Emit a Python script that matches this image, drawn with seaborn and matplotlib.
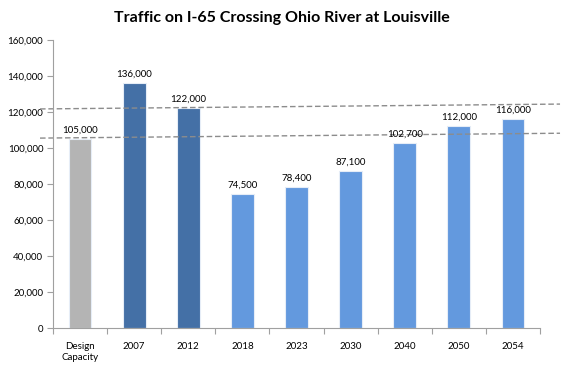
import matplotlib
matplotlib.use("Agg")
import matplotlib.pyplot as plt
import seaborn as sns
import pandas as pd
import numpy as np
from matplotlib.ticker import FuncFormatter, FixedLocator

categories = ["Design\nCapacity", "2007", "2012", "2018", "2023", "2030", "2040", "2050", "2054"]
values = [105000, 136000, 122000, 74500, 78400, 87100, 102700, 112000, 116000]
groups = ["design", "past", "past", "future", "future", "future", "future", "future", "future"]
value_labels = ["105,000", "136,000", "122,000", "74,500", "78,400", "87,100", "102,700", "112,000", "116,000"]
palette = {"design": "#b4b4b4", "past": "#4470a6", "future": "#6399de"}

# dashed reference lines (start/end values)
line_low = [105500, 108200]
line_high = [121700, 124400]

df = pd.DataFrame({"cat": categories, "val": values, "grp": groups})

sns.set_theme(style="white")
plt.rcParams['font.family'] = ['Lato', 'DejaVu Sans']

fig = plt.figure(figsize=(5.64, 3.65), dpi=100)
ax = fig.add_axes([53/564, 1 - 328/365, (540-53)/564, (328-40)/365])

sns.barplot(data=df, x="cat", y="val", hue="grp", palette=palette, dodge=False,
            saturation=1, width=0.42, legend=False, ax=ax,
            edgecolor="#e6edf7", linewidth=0.8)

for i, (v, lab) in enumerate(zip(values, value_labels)):
    ax.text(i, v + 2500, lab, ha="center", va="bottom", fontsize=7, color="black")

ax.set_ylim(0, 160000)
ax.set_xlim(-0.5, 8.5)
ax.set_yticks(np.arange(0, 160001, 20000))
ax.yaxis.set_major_formatter(FuncFormatter(lambda v, p: f"{int(v):,}"))
ax.set_xlabel("")
ax.set_ylabel("")

for s in ["top", "right"]:
    ax.spines[s].set_visible(False)
for s in ["left", "bottom"]:
    ax.spines[s].set_color("#a0a0a0")
    ax.spines[s].set_linewidth(0.8)

ax.tick_params(axis="y", which="major", left=True, length=4, width=0.8, color="#a0a0a0",
               labelsize=7, pad=3, labelcolor="black")
ax.tick_params(axis="x", which="major", bottom=False, labelsize=7, pad=4, labelcolor="black")
ax.xaxis.set_minor_locator(FixedLocator(np.arange(-0.5, 8.6, 1)))
ax.tick_params(axis="x", which="minor", bottom=True, length=4, width=0.8, color="#a0a0a0")
for t in ax.get_xticklabels():
    t.set_linespacing(1.3)

x0, x1 = -0.74, 8.87
ax.plot([x0, x1], line_low, ls=(0, (4, 2)), color="#8c8c8c", lw=1.0, clip_on=False)
ax.plot([x0, x1], line_high, ls=(0, (4, 2)), color="#8c8c8c", lw=1.0, clip_on=False)

fig.text(0.5, 1 - 18/365, "Traffic on I-65 Crossing Ohio River at Louisville",
         ha="center", va="center", fontsize=11.5, fontweight="bold", color="black")

fig.savefig("out.png", dpi=100)
